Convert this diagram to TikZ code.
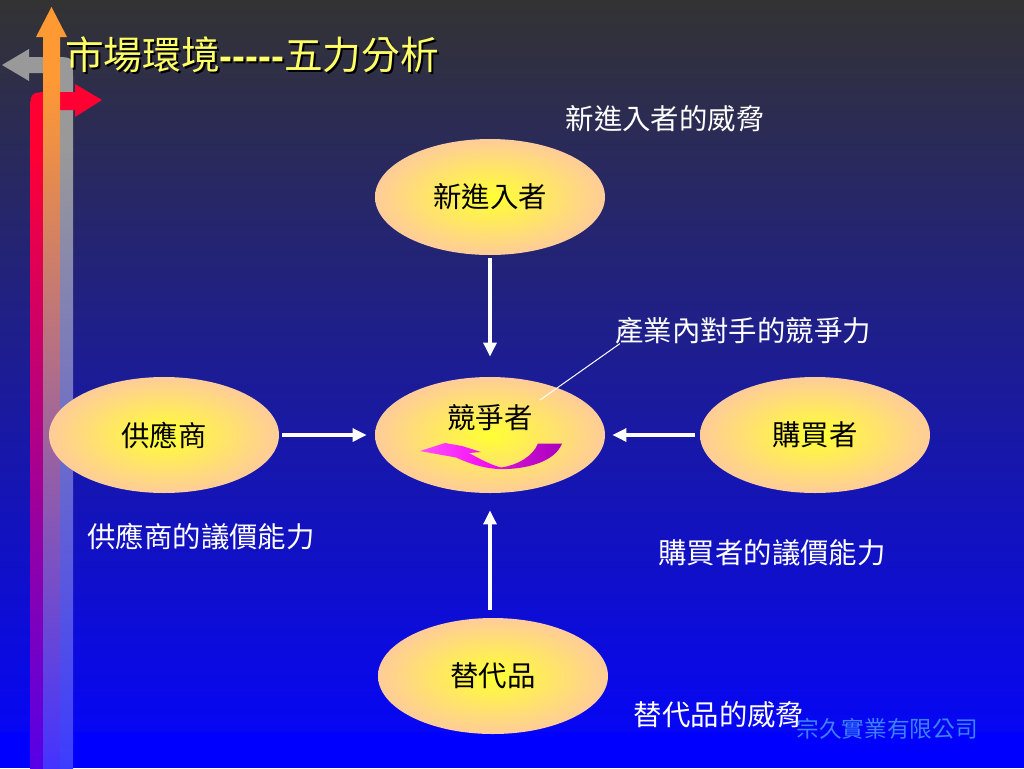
\documentclass[tikz,border=0pt]{standalone}
\usepackage{fontspec}
\setmainfont{Liberation Sans}
\newfontfamily\cjk{Noto Sans CJK TC}
\newfontfamily\dashfont{Liberation Sans}
\usetikzlibrary{arrows.meta,shapes.geometric}
\definecolor{bgtop}{RGB}{51,51,51}
\definecolor{bgbot}{RGB}{6,6,244}
\definecolor{bandblue}{RGB}{0,0,255}
\definecolor{peach}{RGB}{255,204,153}
\definecolor{yel}{RGB}{255,255,51}
\definecolor{titley}{RGB}{255,255,102}
\definecolor{compblue}{RGB}{60,130,255}
\definecolor{redar}{RGB}{255,0,51}
\definecolor{redmid}{RGB}{224,0,140}
\definecolor{redbot}{RGB}{85,0,232}
\definecolor{orar}{RGB}{255,153,51}
\definecolor{ormid}{RGB}{204,119,153}
\definecolor{orbot}{RGB}{68,51,255}
\definecolor{grar}{RGB}{153,153,153}
\definecolor{grmid}{RGB}{130,130,180}
\definecolor{grbot}{RGB}{60,60,255}
\definecolor{mag}{RGB}{240,0,240}
\definecolor{maglight}{RGB}{255,80,255}
\definecolor{magdark}{RGB}{170,0,190}
\definecolor{magdark2}{RGB}{215,20,215}
\begin{document}
\begin{tikzpicture}[x=0.75pt,y=-0.75pt,
  ell/.style={ellipse, minimum width=172.5pt, minimum height=87pt, inner sep=0pt,
    inner color=yel, outer color=peach, text=black,
    font=\cjk\fontsize{21.3pt}{24pt}\selectfont},
  lbl/.style={text=white, inner sep=0pt, font=\cjk\fontsize{21.3pt}{24pt}\selectfont},
  arr/.style={draw=white, line width=3.3pt, -{Triangle[length=10.5pt,width=9.5pt]}}]
\useasboundingbox (0,0) rectangle (1024,768);
% background
\shade[top color=bgtop, bottom color=bgbot] (0,0) rectangle (1024,732);
\fill[bandblue] (0,732) rectangle (1024,768);
% left decorative arrows
\fill[grar] (73,150) -- (73,77) .. controls (73,57) .. (55,57) -- (29,57) -- (29,49) -- (2,65)
  -- (29,81) -- (29,73) -- (60,73) -- (60,150) -- cycle;
\shade[top color=grar, middle color=grmid, bottom color=grbot] (60,149) rectangle (73,768);
\fill[redar] (30,150) -- (30,114) .. controls (30,92) .. (52,92) -- (75,92) -- (75,84) -- (102,100)
  -- (75,117) -- (75,110) -- (43,110) -- (43,150) -- cycle;
\shade[top color=redar, middle color=redmid, bottom color=redbot] (30,149) rectangle (43,768);
\fill[orar] (51.5,7) -- (67,37) -- (60,37) -- (60,80) -- (43,80) -- (43,37) -- (36,37) -- cycle;
\shade[top color=orar, middle color=ormid, bottom color=orbot] (43,79) rectangle (60,768);
% title
\node[anchor=west, inner sep=0pt, text=black] at (67,57)
  {\cjk\fontsize{29pt}{32pt}\selectfont 市場環境{\dashfont\bfseries-----}五力分析};
\node[anchor=west, inner sep=0pt, text=titley] (title) at (65,55)
  {\cjk\fontsize{29pt}{32pt}\selectfont 市場環境{\dashfont\bfseries-----}五力分析};
% ellipses
\node[ell] (new) at (490,197) {新進入者};
\node[ell] (comp) at (490,435) {};
\node[ell] (sup) at (164,435) {供應商};
\node[ell] (buy) at (815,435) {購買者};
\node[ell] (sub) at (493,676) {替代品};
\node[lbl, text=black] (compt) at (490,418) {競爭者};
% curved magenta arrow inside comp
\shade[left color=maglight, right color=mag] (420,451) -- (445,443) -- (462,446) -- (481,452)
  -- (469,453) .. controls (480,459) and (491,465) .. (501,467.5)
  -- (498,469) .. controls (482,468) and (468,463) .. (456,457.5) -- cycle;
\shade[left color=magdark2, right color=magdark] (498,469) .. controls (525,470) and (555,462) .. (562,443.5)
  -- (538,443.5) .. controls (533,456) and (518,465) .. (501,467.5) -- cycle;
% labels
\node[lbl] (l1) at (665,119) {新進入者的威脅};
\node[lbl] (l2) at (743,331) {產業內對手的競爭力};
\node[lbl] (l3) at (201,537) {供應商的議價能力};
\node[lbl] (l4) at (772,553) {購買者的議價能力};
\node[lbl] (l5) at (719,715) {替代品的威脅};
\node[inner sep=0pt, text=compblue, font=\cjk\fontsize{17pt}{20pt}\selectfont] (co) at (887,729) {宗久實業有限公司};
% connectors
\draw[arr, shorten <=2.25pt, shorten >=15pt] (new.south) -- (comp.north);
\draw[arr, shorten <=2pt, shorten >=6pt] (sup.east) -- (comp.west);
\draw[arr, shorten <=3.75pt, shorten >=5.25pt] (buy.west) -- (comp.east);
\draw[arr, shorten <=6pt, shorten >=12.75pt] (sub.north -| comp.south) -- (comp.south);
\coordinate (cl) at (540,400);
\draw[white, line width=0.75pt] (cl) -- ([shift={(5,-1)}]l2.south west);
\end{tikzpicture}
\end{document}
